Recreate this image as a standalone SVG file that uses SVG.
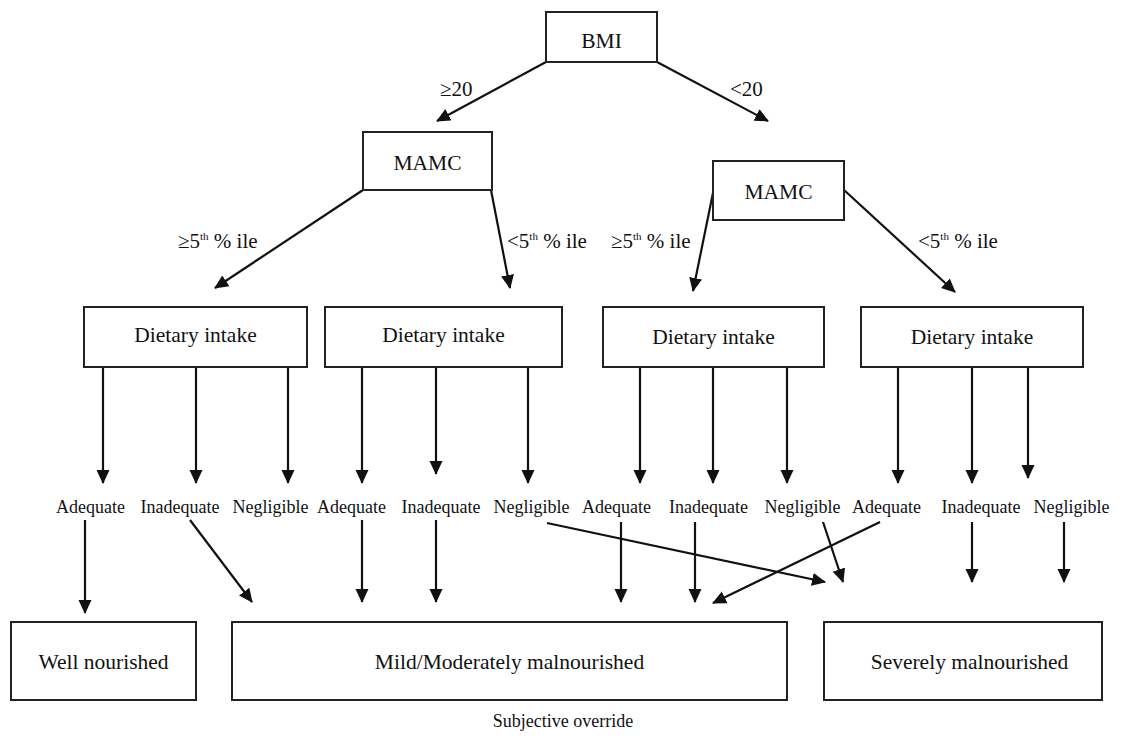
<svg xmlns="http://www.w3.org/2000/svg" width="1124" height="740" viewBox="0 0 1124 740">
<defs>
<style>
.box{fill:#fff;stroke:#222;stroke-width:2}
.t{font-family:"Liberation Serif","Times New Roman",serif;fill:#111;text-anchor:middle}
.big{font-size:21.5px}
.lab{font-family:"Liberation Serif","Times New Roman",serif;fill:#111;font-size:21px}
.opt{font-size:18px}
.c{stroke:#111;stroke-width:2.2;fill:none;marker-end:url(#ah)}
</style>
<marker id="ah" markerUnits="userSpaceOnUse" markerWidth="14" markerHeight="14" viewBox="0 0 14 14" refX="13" refY="7" orient="auto"><path d="M0,0.5 L14,7 L0,13.5 z" fill="#111"/></marker>
</defs>
<rect width="1124" height="740" fill="#fff"/>

<g id="connectors">
<path class="c" d="M546,62 L437,121"/>
<path class="c" d="M657,62 L768,121"/>
<path class="c" d="M363,190 L215,288"/>
<path class="c" d="M491,190 L510,288"/>
<path class="c" d="M714,188 L693,291"/>
<path class="c" d="M844,190 L955,292"/>
<path class="c" d="M103,367 L103,483"/>
<path class="c" d="M196,367 L196,483"/>
<path class="c" d="M288,367 L288,483"/>
<path class="c" d="M362,367 L362,483"/>
<path class="c" d="M436,367 L436,474"/>
<path class="c" d="M528,367 L528,483"/>
<path class="c" d="M640,367 L640,483"/>
<path class="c" d="M713,367 L713,483"/>
<path class="c" d="M787,367 L787,483"/>
<path class="c" d="M898,367 L898,483"/>
<path class="c" d="M972,367 L972,483"/>
<path class="c" d="M1028,367 L1028,478"/>
<path class="c" d="M85,520 L85,613"/>
<path class="c" d="M190,520 L252,602"/>
<path class="c" d="M362,520 L362,602"/>
<path class="c" d="M436,520 L436,602"/>
<path class="c" d="M547,523 L825,582"/>
<path class="c" d="M621,522 L621,602"/>
<path class="c" d="M695,522 L695,602"/>
<path class="c" d="M823,522 L843,582"/>
<path class="c" d="M880,522 L713,603"/>
<path class="c" d="M972,522 L972,582"/>
<path class="c" d="M1064,522 L1064,582"/>
<text class="lab" x="440" y="96">≥20</text>
<text class="lab" x="730" y="96">&lt;20</text>
<text class="lab" x="178" y="248">≥5<tspan font-size="11" dy="-8">th</tspan><tspan dy="8"> % ile</tspan></text>
<text class="lab" x="507" y="248">&lt;5<tspan font-size="11" dy="-8">th</tspan><tspan dy="8"> % ile</tspan></text>
<text class="lab" x="611" y="248">≥5<tspan font-size="11" dy="-8">th</tspan><tspan dy="8"> % ile</tspan></text>
<text class="lab" x="918" y="248">&lt;5<tspan font-size="11" dy="-8">th</tspan><tspan dy="8"> % ile</tspan></text>
</g>

<g id="bmi"><rect class="box" x="546" y="12" width="111" height="50"/><text class="t big" x="601.5" y="48">BMI</text></g>
<g id="mamc-left"><rect class="box" x="363" y="132" width="129" height="58"/><text class="t big" x="427.5" y="170">MAMC</text></g>
<g id="mamc-right"><rect class="box" x="713" y="161" width="131" height="59"/><text class="t big" x="778.5" y="199">MAMC</text></g>

<g id="diet1"><rect class="box" x="84" y="307" width="223" height="60"/><text class="t big" x="195.5" y="342">Dietary intake</text></g>
<g id="diet2"><rect class="box" x="325" y="307" width="237" height="60"/><text class="t big" x="443.5" y="342">Dietary intake</text></g>
<g id="diet3"><rect class="box" x="603" y="307" width="221" height="60"/><text class="t big" x="713.5" y="344">Dietary intake</text></g>
<g id="diet4"><rect class="box" x="861" y="307" width="222" height="60"/><text class="t big" x="972" y="344">Dietary intake</text></g>

<g id="opt-d1-adequate"><text class="t opt" x="90.5" y="513">Adequate</text></g>
<g id="opt-d1-inadequate"><text class="t opt" x="180" y="513">Inadequate</text></g>
<g id="opt-d1-negligible"><text class="t opt" x="270.5" y="513">Negligible</text></g>
<g id="opt-d2-adequate"><text class="t opt" x="351.5" y="513">Adequate</text></g>
<g id="opt-d2-inadequate"><text class="t opt" x="441" y="513">Inadequate</text></g>
<g id="opt-d2-negligible"><text class="t opt" x="531.5" y="513">Negligible</text></g>
<g id="opt-d3-adequate"><text class="t opt" x="616.5" y="513">Adequate</text></g>
<g id="opt-d3-inadequate"><text class="t opt" x="708.5" y="513">Inadequate</text></g>
<g id="opt-d3-negligible"><text class="t opt" x="802.5" y="513">Negligible</text></g>
<g id="opt-d4-adequate"><text class="t opt" x="886.5" y="513">Adequate</text></g>
<g id="opt-d4-inadequate"><text class="t opt" x="981" y="513">Inadequate</text></g>
<g id="opt-d4-negligible"><text class="t opt" x="1071.5" y="513">Negligible</text></g>

<g id="well"><rect class="box" x="11" y="622" width="185" height="78"/><text class="t big" x="103.5" y="669">Well nourished</text></g>
<g id="mild"><rect class="box" x="232" y="622" width="555" height="78"/><text class="t big" x="509.5" y="669">Mild/Moderately malnourished</text></g>
<g id="severe"><rect class="box" x="824" y="622" width="278" height="78"/><text class="t big" x="969.5" y="669">Severely malnourished</text></g>

<g id="subjective"><text class="t opt" x="563" y="727">Subjective override</text></g>
</svg>
